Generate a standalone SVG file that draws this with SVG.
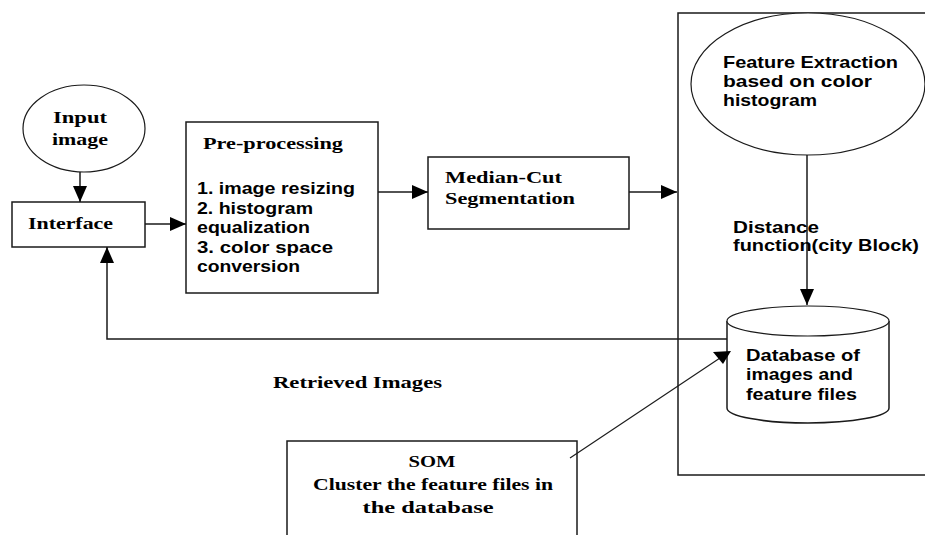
<svg xmlns="http://www.w3.org/2000/svg" width="925" height="535" viewBox="0 0 925 535">
  <style>
    .box { fill: #fff; stroke: #1a1a1a; stroke-width: 1.5; }
    .oval { fill: #fff; stroke: #1a1a1a; stroke-width: 1.2; }
    .line { fill: none; stroke: #1a1a1a; stroke-width: 1.5; }
    .thin { fill: none; stroke: #1a1a1a; stroke-width: 1.1; }
    .head { fill: #000; }
    .serif { font-family: "Liberation Serif", "Times New Roman", serif; font-weight: bold; font-size: 17px; fill: #000; }
    .sans { font-family: "Liberation Sans", Arial, sans-serif; font-weight: bold; font-size: 17px; fill: #000; }
  </style>
  <defs>
    <marker id="arrow" markerUnits="userSpaceOnUse" markerWidth="16" markerHeight="16" viewBox="0 0 16 16" refX="16" refY="8" orient="auto">
      <path d="M0,1 L16,8 L0,15 Z" class="head"/>
    </marker>
  </defs>

  <rect width="925" height="535" fill="#fff"/>

  <!-- outer frame of the retrieval subsystem -->
  <g id="retrieval-frame">
    <rect class="box" x="678" y="13" width="270" height="462"/>
  </g>

  <g id="input-image">
    <ellipse class="oval" cx="84" cy="128.5" rx="61" ry="43.5"/>
    <text class="serif" x="53" y="123" textLength="54" lengthAdjust="spacingAndGlyphs">Input</text>
    <text class="serif" x="52" y="145" textLength="56" lengthAdjust="spacingAndGlyphs">image</text>
  </g>

  <g id="interface">
    <rect class="box" x="12" y="202" width="133" height="45"/>
    <text class="serif" x="28" y="229" textLength="85" lengthAdjust="spacingAndGlyphs">Interface</text>
  </g>

  <g id="pre-processing">
    <rect class="box" x="186" y="122" width="192" height="171"/>
    <text class="serif" x="203" y="149" textLength="140" lengthAdjust="spacingAndGlyphs">Pre-processing</text>
    <text class="sans" x="197" y="194" textLength="158" lengthAdjust="spacingAndGlyphs">1. image resizing</text>
    <text class="sans" x="197" y="214" textLength="116" lengthAdjust="spacingAndGlyphs">2. histogram</text>
    <text class="sans" x="197" y="233" textLength="113" lengthAdjust="spacingAndGlyphs">equalization</text>
    <text class="sans" x="197" y="253" textLength="136" lengthAdjust="spacingAndGlyphs">3. color space</text>
    <text class="sans" x="197" y="272" textLength="103" lengthAdjust="spacingAndGlyphs">conversion</text>
  </g>

  <g id="median-cut">
    <rect class="box" x="428" y="157" width="201" height="72"/>
    <text class="serif" x="445" y="183" textLength="117" lengthAdjust="spacingAndGlyphs">Median-Cut</text>
    <text class="serif" x="445" y="204" textLength="130" lengthAdjust="spacingAndGlyphs">Segmentation</text>
  </g>

  <g id="feature-extraction">
    <ellipse class="oval" cx="808" cy="84" rx="117" ry="71"/>
    <text class="sans" x="723" y="68" textLength="175" lengthAdjust="spacingAndGlyphs">Feature Extraction</text>
    <text class="sans" x="723" y="87" textLength="149" lengthAdjust="spacingAndGlyphs">based on color</text>
    <text class="sans" x="723" y="106" textLength="94" lengthAdjust="spacingAndGlyphs">histogram</text>
  </g>

  <g id="database">
    <path class="box" d="M727,321 L727,408 A81,15 0 0,0 889,408 L889,321"/>
    <ellipse class="oval" cx="808" cy="321" rx="81" ry="15" stroke-width="1.5"/>
    <text class="sans" x="746" y="361" textLength="114" lengthAdjust="spacingAndGlyphs">Database of</text>
    <text class="sans" x="746" y="380" textLength="107" lengthAdjust="spacingAndGlyphs">images and</text>
    <text class="sans" x="746" y="400" textLength="111" lengthAdjust="spacingAndGlyphs">feature files</text>
  </g>

  <g id="som">
    <rect class="box" x="287" y="441" width="290" height="110"/>
    <text class="serif" x="432" y="467" text-anchor="middle" textLength="47" lengthAdjust="spacingAndGlyphs">SOM</text>
    <text class="serif" x="433" y="490" text-anchor="middle" textLength="240" lengthAdjust="spacingAndGlyphs">Cluster the feature files in</text>
    <text class="serif" x="428" y="513" text-anchor="middle" textLength="131" lengthAdjust="spacingAndGlyphs">the database</text>
  </g>

  <g id="connectors">
    <line class="line" x1="80" y1="172" x2="80" y2="202" marker-end="url(#arrow)"/>
    <line class="line" x1="145" y1="224" x2="186" y2="224" marker-end="url(#arrow)"/>
    <line class="line" x1="378" y1="192" x2="428" y2="192" marker-end="url(#arrow)"/>
    <line class="line" x1="629" y1="192" x2="677" y2="192" marker-end="url(#arrow)"/>
    <line class="line" x1="807" y1="155" x2="807" y2="305" marker-end="url(#arrow)"/>
    <polyline class="line" points="727,339 107,339 107,247" marker-end="url(#arrow)"/>
    <line class="thin" x1="570" y1="458" x2="720" y2="358"/>
    <polygon class="head" points="713,352 731,351 723,364"/>
  </g>

  <g id="labels">
    <text class="sans" x="733" y="233" textLength="86" lengthAdjust="spacingAndGlyphs">Distance</text>
    <text class="sans" x="733" y="251" textLength="186" lengthAdjust="spacingAndGlyphs">function(city Block)</text>
    <text class="serif" x="273" y="388" textLength="169" lengthAdjust="spacingAndGlyphs">Retrieved Images</text>
  </g>
</svg>
